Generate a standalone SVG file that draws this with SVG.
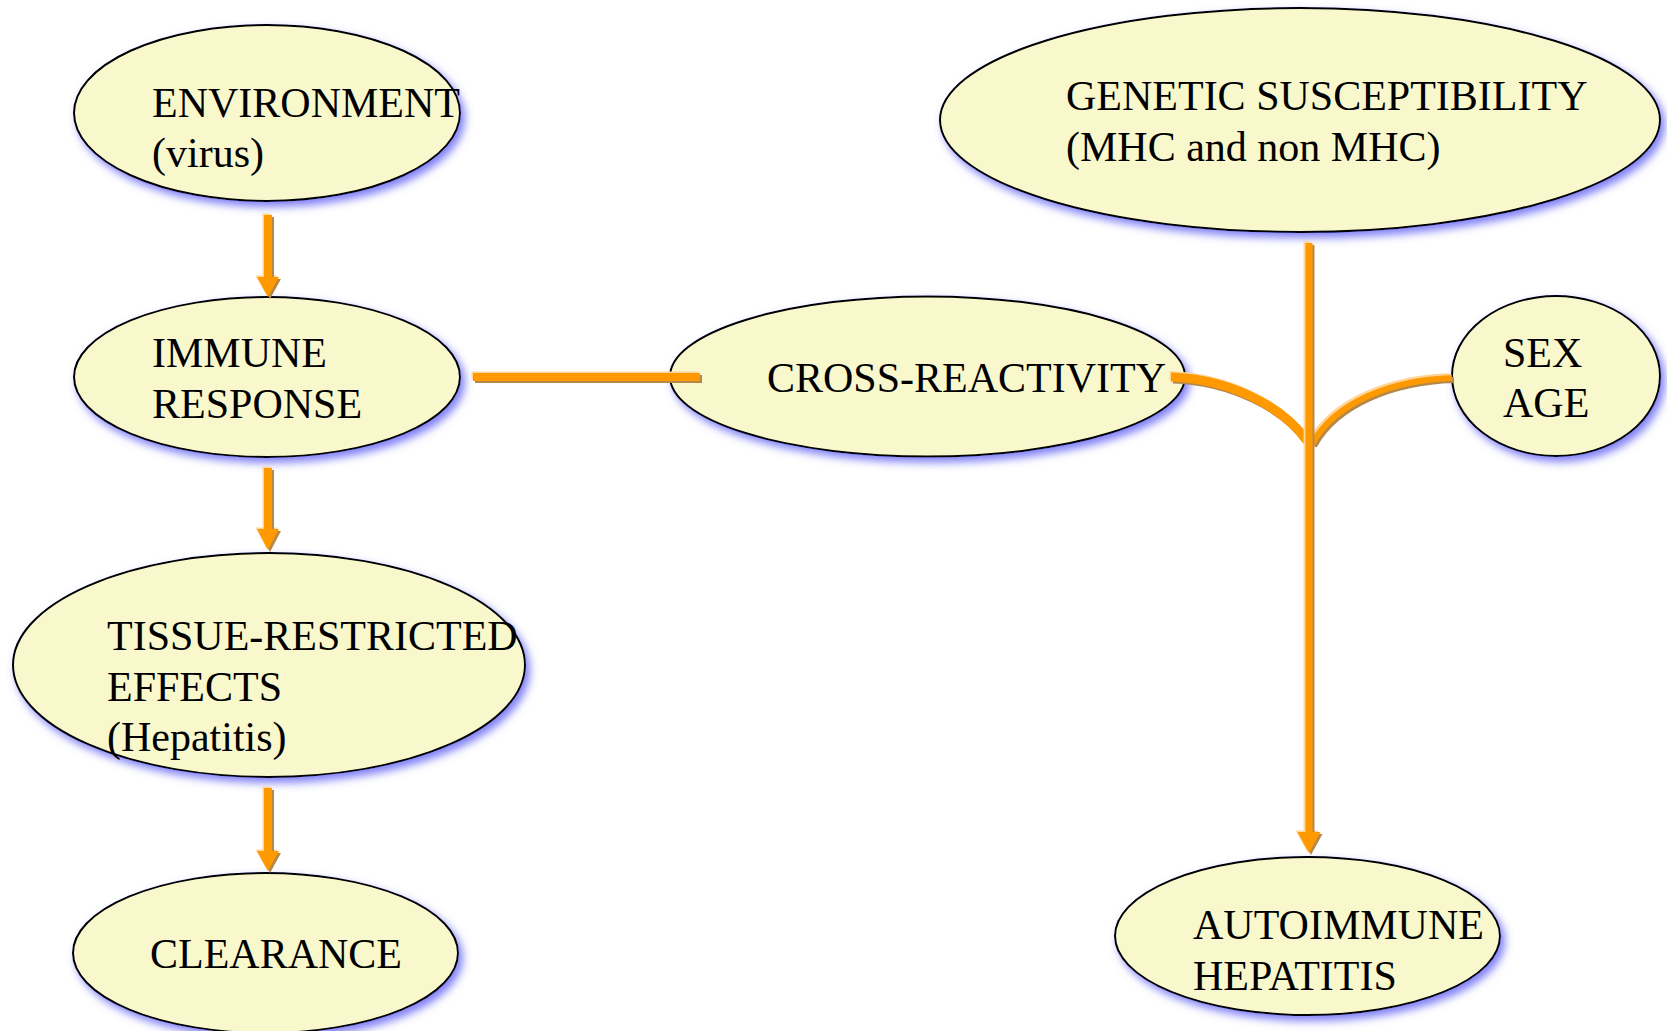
<svg xmlns="http://www.w3.org/2000/svg" xmlns:xlink="http://www.w3.org/1999/xlink" width="1667" height="1031" viewBox="0 0 1667 1031">
<defs>
<filter id="glow" x="-10%" y="-15%" width="125%" height="135%">
<feGaussianBlur in="SourceAlpha" stdDeviation="4" result="b"/>
<feOffset in="b" dx="4" dy="5" result="o"/>
<feFlood flood-color="#6a6af5" flood-opacity="0.85"/>
<feComposite in2="o" operator="in" result="s"/>
<feMerge><feMergeNode in="s"/><feMergeNode in="SourceGraphic"/></feMerge>
</filter>
<style>
.node ellipse{fill:#f8f8cc;stroke:#000;stroke-width:2;filter:url(#glow)}
.node text{font-family:"Liberation Serif","Times New Roman",serif;font-size:42px;fill:#000}
.ln{fill:none;stroke-linecap:butt}
.sh{stroke:#b5884a}
.hl{stroke:#ffd59a}
.mn{stroke:#ff9900}
.psh{fill:#b5884a}
.phl{fill:#ffd59a}
.pmn{fill:#ff9900}
</style>
</defs>
<rect width="1667" height="1031" fill="#fff"/>

<g id="environment" class="node">
<ellipse cx="267" cy="113" rx="193" ry="88"/>
<text x="152" y="117">ENVIRONMENT</text>
<text x="152" y="167">(virus)</text>
</g>

<g id="immune-response" class="node">
<ellipse cx="267" cy="377" rx="193" ry="80"/>
<text x="152" y="367">IMMUNE</text>
<text x="152" y="418">RESPONSE</text>
</g>

<g id="tissue-restricted" class="node">
<ellipse cx="269" cy="665" rx="256" ry="112"/>
<text x="107" y="650">TISSUE-RESTRICTED</text>
<text x="107" y="701">EFFECTS</text>
<text x="107" y="751">(Hepatitis)</text>
</g>

<g id="clearance" class="node">
<ellipse cx="265.5" cy="953" rx="192.5" ry="80"/>
<text x="150" y="968">CLEARANCE</text>
</g>

<g id="cross-reactivity" class="node">
<ellipse cx="927.5" cy="376.5" rx="257.5" ry="80"/>
<text x="767" y="392">CROSS-REACTIVITY</text>
</g>

<g id="genetic-susceptibility" class="node">
<ellipse cx="1300" cy="120" rx="360" ry="112"/>
<text x="1066" y="110">GENETIC SUSCEPTIBILITY</text>
<text x="1066" y="161">(MHC and non MHC)</text>
</g>

<g id="sex-age" class="node">
<ellipse cx="1556" cy="376" rx="104" ry="80"/>
<text x="1503" y="367">SEX</text>
<text x="1503" y="417">AGE</text>
</g>

<g id="autoimmune-hepatitis" class="node">
<ellipse cx="1307.5" cy="936" rx="192.5" ry="79"/>
<text x="1193" y="939">AUTOIMMUNE</text>
<text x="1193" y="990">HEPATITIS</text>
</g>

<g id="connectors">
<!-- environment -> immune response -->
<polygon class="phl" transform="translate(-1.5,-1.5)" points="264,215 272,215 272,277 279,277 268,297 257,277 264,277"/>
<polygon class="psh" transform="translate(2,2)" points="264,215 272,215 272,277 279,277 268,297 257,277 264,277"/>
<polygon class="pmn" points="264,215 272,215 272,277 279,277 268,297 257,277 264,277"/>
<!-- immune response -> tissue -->
<polygon class="phl" transform="translate(-1.5,-1.5)" points="264,468 272,468 272,529 279,529 268,550 257,529 264,529"/>
<polygon class="psh" transform="translate(2,2)" points="264,468 272,468 272,529 279,529 268,550 257,529 264,529"/>
<polygon class="pmn" points="264,468 272,468 272,529 279,529 268,550 257,529 264,529"/>
<!-- tissue -> clearance -->
<polygon class="phl" transform="translate(-1.5,-1.5)" points="264,788 272,788 272,851 279,851 268,871 257,851 264,851"/>
<polygon class="psh" transform="translate(2,2)" points="264,788 272,788 272,851 279,851 268,871 257,851 264,851"/>
<polygon class="pmn" points="264,788 272,788 272,851 279,851 268,871 257,851 264,851"/>
<!-- immune response - cross-reactivity -->
<path class="ln hl" stroke-width="8" transform="translate(-1.5,-1.5)" d="M473,377 H700"/>
<path class="ln sh" stroke-width="8" transform="translate(2,2)" d="M473,377 H700"/>
<path class="ln mn" stroke-width="8" d="M473,377 H700"/>
<!-- cross-reactivity branch -->
<path class="ln hl" stroke-width="9" transform="translate(-1.5,-1.5)" d="M1171,377 C1228,379 1282,405 1307,441"/>
<path class="ln sh" stroke-width="9" transform="translate(2,2)" d="M1171,377 C1228,379 1282,405 1307,441"/>
<path class="ln mn" stroke-width="9" d="M1171,377 C1228,379 1282,405 1307,441"/>
<!-- sex/age branch -->
<path class="ln hl" stroke-width="6" transform="translate(-1.5,-2)" d="M1452,378 C1392,380 1335,402 1312,444"/>
<path class="ln sh" stroke-width="6" transform="translate(2,2)" d="M1452,378 C1392,380 1335,402 1312,444"/>
<path class="ln mn" stroke-width="6" d="M1452,378 C1392,380 1335,402 1312,444"/>
<!-- genetic susceptibility -> autoimmune hepatitis -->
<polygon class="phl" transform="translate(-2,-1.5)" points="1305.5,243 1312.5,243 1312.5,832 1320.5,832 1309,853 1297.5,832 1305.5,832"/>
<polygon class="psh" transform="translate(2,2)" points="1305.5,243 1312.5,243 1312.5,832 1320.5,832 1309,853 1297.5,832 1305.5,832"/>
<polygon class="pmn" points="1305.5,243 1312.5,243 1312.5,832 1320.5,832 1309,853 1297.5,832 1305.5,832"/>
</g>
</svg>
